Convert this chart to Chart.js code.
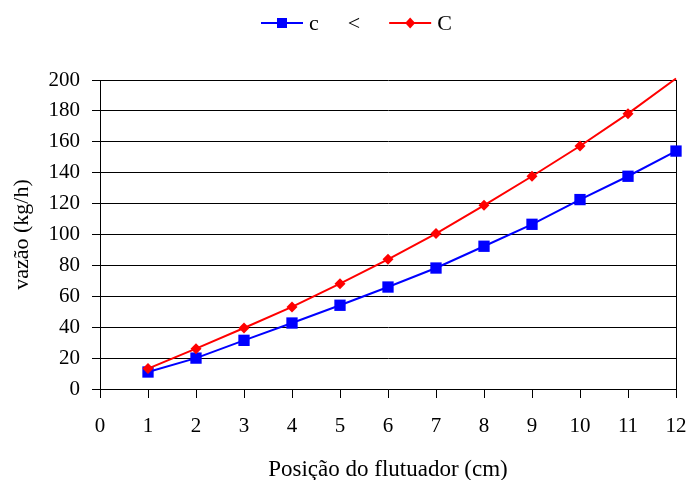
<!DOCTYPE html>
<html>
<head>
<meta charset="utf-8">
<script src="https://cdn.jsdelivr.net/npm/chart.js@4/dist/chart.umd.min.js"></script>
<style>
  html, body { margin: 0; padding: 0; background: #fff; }
  #wrap { width: 691px; height: 480px; }
</style>
</head>
<body>
<div id="wrap"><canvas id="chart" width="691" height="480"></canvas></div>
<script>
// posição do flutuador (cm)
const positions = [1, 2, 3, 4, 5, 6, 7, 8, 9, 10, 11, 12];
// vazão (kg/h)
const seriesLower = [11, 20, 31.5, 42.7, 54.2, 66, 78.3, 92.4, 106.6, 122.6, 137.7, 154];
const seriesUpper = [13.2, 26.1, 39.5, 53.1, 68.2, 83.9, 100.6, 118.9, 137.7, 157.3, 178.2, 201];
const legendLabels = ["c", "<", "C"];
const xTicks = [0, 1, 2, 3, 4, 5, 6, 7, 8, 9, 10, 11, 12];
const yTicks = [0, 20, 40, 60, 80, 100, 120, 140, 160, 180, 200];

const SERIF = '"Liberation Serif", "Times New Roman", serif';
const BLUE = "#0000ff";
const RED = "#ff0000";
const Y_MAX = 200;

// Legend: line + marker symbol, drawn above the plot
const lineLegend = {
  id: "lineLegend",
  afterDraw(chart, args, opts) {
    const ctx = chart.ctx;
    const y = opts.y;
    let x = opts.x;
    ctx.save();
    ctx.font = "22px " + SERIF;
    ctx.textBaseline = "middle";
    ctx.fillStyle = "#000";
    opts.items.forEach((it) => {
      if (it.color) {
        ctx.strokeStyle = it.color;
        ctx.lineWidth = 2;
        ctx.beginPath();
        ctx.moveTo(x, y);
        ctx.lineTo(x + opts.symbolWidth, y);
        ctx.stroke();
        const cx = x + opts.symbolWidth / 2;
        ctx.fillStyle = it.color;
        ctx.beginPath();
        if (it.marker === "rect") {
          ctx.rect(cx - 5, y - 5, 10, 10);
        } else {
          ctx.moveTo(cx, y - 5.5);
          ctx.lineTo(cx + 5, y);
          ctx.lineTo(cx, y + 5.5);
          ctx.lineTo(cx - 5, y);
          ctx.closePath();
        }
        ctx.fill();
        x += opts.symbolWidth + 6;
      }
      ctx.fillStyle = "#000";
      ctx.fillText(it.label, x, y + 1);
      x += ctx.measureText(it.label).width + opts.gap;
    });
    ctx.restore();
  },
};

const ctx = document.getElementById("chart").getContext("2d");
new Chart(ctx, {
  type: "line",
  data: {
    datasets: [
      {
        label: legendLabels[0],
        data: positions.map((p, i) => ({ x: p, y: seriesLower[i] })),
        borderColor: BLUE,
        backgroundColor: BLUE,
        borderWidth: 2,
        pointStyle: "rect",
        pointRadius: 8,
        pointBorderWidth: 0,
        tension: 0,
        clip: false,
        order: 1,
      },
      {
        label: legendLabels[2],
        data: positions.map((p, i) => ({ x: p, y: seriesUpper[i] })),
        borderColor: RED,
        backgroundColor: RED,
        borderWidth: 2,
        pointStyle: "rectRot",
        pointRadius: (c) => (c.raw && c.raw.y > Y_MAX ? 0 : 5.5),
        pointBorderWidth: 0,
        tension: 0,
        clip: false,
        order: 0,
      },
    ],
  },
  options: {
    responsive: false,
    animation: false,
    layout: { padding: { top: 80, right: 15, left: 0, bottom: 0 } },
    plugins: {
      legend: { display: false },
      tooltip: { enabled: false },
      lineLegend: {
        x: 261,
        y: 23,
        symbolWidth: 42,
        gap: 29,
        items: [
          { label: legendLabels[0], color: BLUE, marker: "rect" },
          { label: legendLabels[1] },
          { label: legendLabels[2], color: RED, marker: "diamond" },
        ],
      },
    },
    scales: {
      x: {
        type: "linear",
        min: 0,
        max: 12,
        afterBuildTicks: (s) => { s.ticks = xTicks.map((v) => ({ value: v })); },
        afterFit: (s) => {
          s.height = 91;
          s.paddingLeft = 0;
          s.paddingRight = 0;
        },
        border: { color: "#000", width: 1 },
        grid: {
          color: (c) => (c.tick && c.tick.value === 12 ? "#000" : "rgba(0,0,0,0)"),
          tickColor: "#000",
          tickLength: 9,
          lineWidth: 1,
        },
        ticks: {
          color: "#000",
          font: { family: SERIF, size: 21 },
          padding: 16,
          maxRotation: 0,
        },
        title: {
          display: true,
          text: "Posição do flutuador (cm)",
          color: "#000",
          font: { family: SERIF, size: 23, lineHeight: 1 },
          padding: { top: 0, bottom: -1 },
        },
      },
      y: {
        min: 0,
        max: Y_MAX,
        afterBuildTicks: (s) => { s.ticks = yTicks.map((v) => ({ value: v })); },
        afterFit: (s) => { s.width = 100; },
        border: { color: "#000", width: 1 },
        grid: { color: "#000", tickColor: "#000", tickLength: 8, lineWidth: 1 },
        ticks: {
          color: "#000",
          font: { family: SERIF, size: 21 },
          padding: 12,
        },
        title: {
          display: true,
          text: "vazão (kg/h)",
          color: "#000",
          font: { family: SERIF, size: 22 },
          padding: { top: 9, bottom: 0 },
        },
      },
    },
  },
  plugins: [lineLegend],
});
</script>
</body>
</html>
